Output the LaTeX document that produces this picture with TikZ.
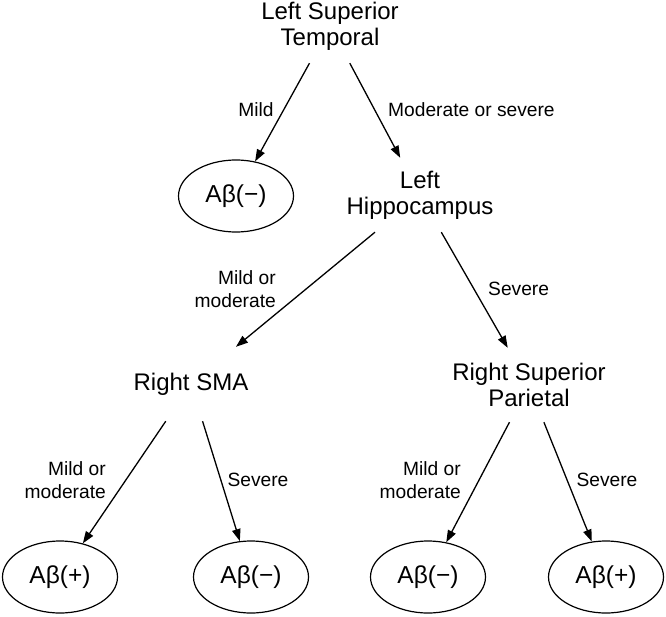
\documentclass[tikz,border=0pt]{standalone}
\usepackage{fontspec}
\setmainfont{Liberation Sans}
\usetikzlibrary{shapes.geometric,arrows.meta}
\begin{document}
\begin{tikzpicture}[x=1pt,y=-1pt,
  lvl/.style={rectangle, draw=none, inner sep=0pt, minimum height=74pt, align=center, font=\fontsize{24}{26}\selectfont},
  leaf/.style={ellipse, draw, line width=1.2pt, inner sep=0pt, minimum width=115pt, minimum height=72pt, font=\fontsize{24.5}{26}\selectfont},
  lbl/.style={inner sep=0pt, font=\fontsize{19.2}{22.5}\selectfont},
  conn/.style={draw, line width=1.3pt, -{Triangle[length=12pt,width=8.5pt]}}]
\useasboundingbox (0,0) rectangle (666,616);
% nodes
\node[lvl] (lst) at (330,26) {Left Superior\\Temporal};
\node[lvl] (lh) at (420,195) {Left\\Hippocampus};
\node[lvl] (rsma) at (191,384) {Right SMA};
\node[lvl] (rsp) at (529,385) {Right Superior\\Parietal};
\node[leaf] (e0) at (236,196) {Aβ(−)};
\node[leaf] (e1) at (60,577) {Aβ(+)};
\node[leaf] (e2) at (251,577) {Aβ(−)};
\node[leaf] (e3) at (428,577) {Aβ(−)};
\node[leaf] (e4) at (606,577) {Aβ(+)};
% connectors
\draw[conn] (lst) -- (e0);
\draw[conn] (lst) -- (lh);
\draw[conn] (lh) -- (rsma);
\draw[conn] (lh) -- (rsp);
\draw[conn] (rsma) -- (e1);
\draw[conn] (rsma) -- (e2);
\draw[conn] (rsp) -- (e3);
\draw[conn] (rsp) -- (e4);
% labels
\node[lbl] (l1) at (256,110) {Mild};
\node[lbl, anchor=west] (l2) at (388,110) {Moderate or severe};
\node[lbl, align=right, anchor=east] (l3) at (276,289) {Mild or\\moderate};
\node[lbl, anchor=west] (l4) at (488,289) {Severe};
\node[lbl, align=right, anchor=east] (l5) at (106,480) {Mild or\\moderate};
\node[lbl] (l6) at (258,480) {Severe};
\node[lbl, align=right, anchor=east] (l7) at (461,480) {Mild or\\moderate};
\node[lbl] (l8) at (607,480) {Severe};
\end{tikzpicture}
\end{document}
